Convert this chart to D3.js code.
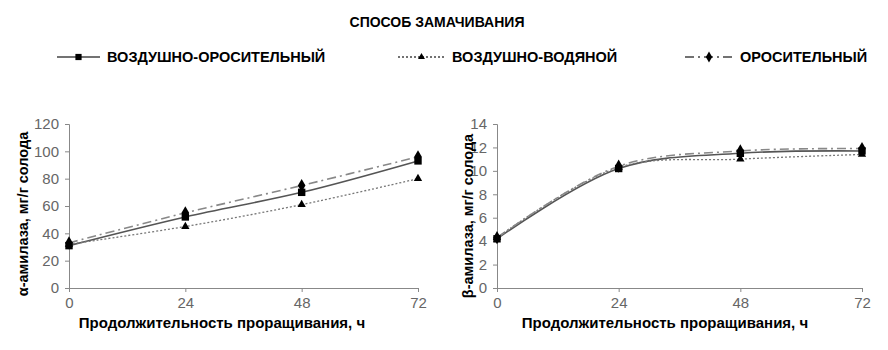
<!DOCTYPE html>
<html>
<head>
<meta charset="utf-8">
<script src="https://cdn.jsdelivr.net/npm/d3@7"></script>
<style>
  body { margin: 0; background: #fff; }
  svg text { font-family: "Liberation Sans", Arial, sans-serif; }
  .tick text { fill: #666; font-size: 15px; }
  .tick line, .domain { stroke: #888; }
</style>
</head>
<body>
<svg id="chart" width="888" height="350"></svg>
<script>
var hours = [0, 24, 48, 72];
var seriesNames = ["ВОЗДУШНО-ОРОСИТЕЛЬНЫЙ", "ВОЗДУШНО-ВОДЯНОЙ", "ОРОСИТЕЛЬНЫЙ"];
// α-амилаза
var alphaAirIrr = [31, 52, 70, 93];
var alphaAirWater = [32, 45, 61, 80];
var alphaIrr = [33, 55, 75, 96];
// β-амилаза
var betaAirIrr = [4.2, 10.2, 11.5, 11.7];
var betaAirWater = [4.3, 10.3, 11.0, 11.4];
var betaIrr = [4.3, 10.4, 11.7, 11.9];

var styles = [
  {dash: null, marker: d3.symbolSquare, size: 55, width: 1.6, color: "#555"},
  {dash: "2,2", marker: d3.symbolTriangle, size: 30, width: 1.3, color: "#777"},
  {dash: "9,4,2,4", marker: d3.symbolDiamond, size: 50, width: 1.6, color: "#888"}
];

var svg = d3.select("#chart");

svg.append("text")
  .attr("x", 437).attr("y", 27)
  .attr("text-anchor", "middle")
  .style("font-size", "14px").style("font-weight", "bold")
  .text("СПОСОБ  ЗАМАЧИВАНИЯ");

// legend
var legendX = [57, 398, 685];
var legendW = [43, 47, 48];
seriesNames.forEach(function(name, i) {
  var g = svg.append("g").attr("transform", "translate(" + legendX[i] + ",57)");
  g.append("line").attr("x1", 0).attr("x2", legendW[i]).attr("y1", 0).attr("y2", 0)
    .attr("stroke", "#444").attr("stroke-width", styles[i].width)
    .attr("stroke-dasharray", styles[i].dash);
  g.append("path").attr("transform", "translate(" + legendW[i] / 2 + ",0)")
    .attr("d", d3.symbol().type(styles[i].marker).size(styles[i].size * 0.7)());
  g.append("text").attr("x", legendW[i] + 7).attr("y", 5)
    .style("font-size", "14.5px").style("font-weight", "bold")
    .text(name);
});

function drawPanel(opts) {
  var x = d3.scaleLinear().domain([0, 72]).range([opts.left, opts.right]);
  var y = d3.scaleLinear().domain([0, opts.max]).range([288, 124]);

  svg.append("g").attr("transform", "translate(0,288)")
    .call(d3.axisBottom(x).tickValues(hours).tickSize(4).tickPadding(5));
  svg.append("g").attr("transform", "translate(" + opts.left + ",0)")
    .call(d3.axisLeft(y).tickValues(d3.range(0, opts.max + 1, opts.step)).tickSize(4).tickPadding(6));

  var line = d3.line()
    .x(function(d, i) { return x(hours[i]); })
    .y(function(d) { return y(d); })
    .curve(d3.curveCatmullRom);

  opts.data.forEach(function(vals, k) {
    svg.append("path").datum(vals)
      .attr("fill", "none")
      .attr("stroke", styles[k].color)
      .attr("stroke-width", styles[k].width)
      .attr("stroke-dasharray", styles[k].dash)
      .attr("d", line);
  });
  opts.data.forEach(function(vals, k) {
    svg.selectAll(null).data(vals).enter().append("path")
      .attr("transform", function(d, i) { return "translate(" + x(hours[i]) + "," + y(d) + ")"; })
      .attr("d", d3.symbol().type(styles[k].marker).size(styles[k].size)());
  });

  svg.append("text")
    .attr("x", opts.titleX).attr("y", 328)
    .attr("text-anchor", "middle")
    .style("font-size", "15px").style("font-weight", "bold")
    .text("Продолжительность проращивания, ч");

  svg.append("text")
    .attr("transform", "translate(" + opts.yTitleX + "," + opts.yTitleY + ") rotate(-90)")
    .attr("text-anchor", "middle")
    .style("font-size", "14.5px").style("font-weight", "bold")
    .text(opts.yTitle);
}

drawPanel({left: 69, right: 418, max: 120, step: 20, titleX: 222, yTitleX: 28, yTitleY: 214,
  yTitle: "α-амилаза, мг/г солода", data: [alphaAirIrr, alphaAirWater, alphaIrr]});
drawPanel({left: 497, right: 862, max: 14, step: 2, titleX: 665, yTitleX: 473, yTitleY: 216,
  yTitle: "β-амилаза, мг/г солода", data: [betaAirIrr, betaAirWater, betaIrr]});
</script>
</body>
</html>
